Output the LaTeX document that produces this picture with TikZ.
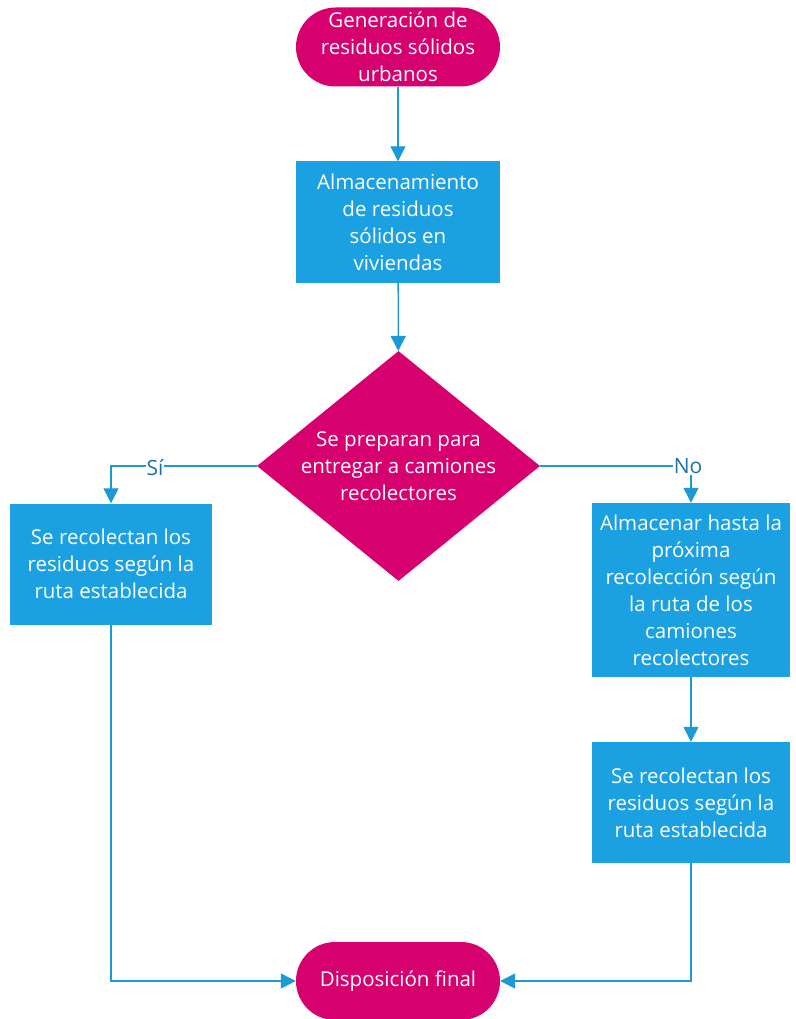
\documentclass[tikz,border=0pt]{standalone}
\usepackage{fontspec}
\setmainfont{Open Sans}
\usetikzlibrary{shapes.geometric,arrows.meta}
\definecolor{berry}{HTML}{D6006F}
\definecolor{sky}{HTML}{1BA1E2}
\definecolor{wire}{HTML}{1B9AD6}
\definecolor{labelblue}{HTML}{1F72A8}
\begin{document}
\begin{tikzpicture}[x=1pt,y=-1pt,
  txt/.style={text=white,font=\fontsize{20.5}{27}\selectfont,align=center,inner sep=0pt},
  terminal/.style={txt,fill=berry,rounded corners=39.5pt,minimum width=204pt,minimum height=79pt},
  process/.style={txt,fill=sky,minimum width=204pt,minimum height=121pt},
  decision/.style={fill=berry,diamond,inner sep=0pt,minimum width=283pt,minimum height=230pt},
  flow/.style={draw=wire,line width=1.3pt,-{Triangle[length=15pt,width=15pt]}},
  tag/.style={text=labelblue,fill=white,font=\fontsize{21}{24}\selectfont,inner sep=1pt}]
\useasboundingbox (0,0) rectangle (795,1019);
\node[terminal] (gen) at (398,47) {Generación de\\residuos sólidos\\urbanos};
\node[process] (alm) at (398,222) {Almacenamiento\\de residuos\\sólidos en\\viviendas};
\node[decision] (dec) at (398.5,466) {};
\node[txt] (dectext) at (dec.center) {Se preparan para\\entregar a camiones\\recolectores};
\node[process,minimum width=202pt] (recA) at (111,564) {Se recolectan los\\residuos según la\\ruta establecida};
\node[process,minimum width=198pt,minimum height=174pt] (almB) at (691,590) {Almacenar hasta la\\próxima\\recolección según\\la ruta de los\\camiones\\recolectores};
\node[process,minimum width=198pt] (recB) at (691,802.5) {Se recolectan los\\residuos según la\\ruta establecida};
\node[terminal,minimum height=78pt,rounded corners=39pt] (fin) at (398,981) {Disposición final};
\coordinate (cl) at (111,466);
\coordinate (cr) at (691,466);
\coordinate (bl) at (111,981);
\coordinate (br) at (691,981);
\draw[flow] (gen) -- (alm);
\draw[flow] (alm) -- (dec);
\draw[flow] (dec.west) -- (cl) -- (recA.north);
\node[tag] (si) at (155,468) {Sí};
\draw[draw=wire,line width=1.3pt] (dec.east) -- (cr);
\node[tag] (no) at (688,466) {No};
\draw[flow] (almB.north |- no.south) -- (almB.north);
\draw[flow] (almB) -- (recB);
\draw[flow] (recA.south) -- (bl) -- (fin.west);
\draw[flow] (recB.south) -- (br) -- (fin.east);
\end{tikzpicture}
\end{document}
